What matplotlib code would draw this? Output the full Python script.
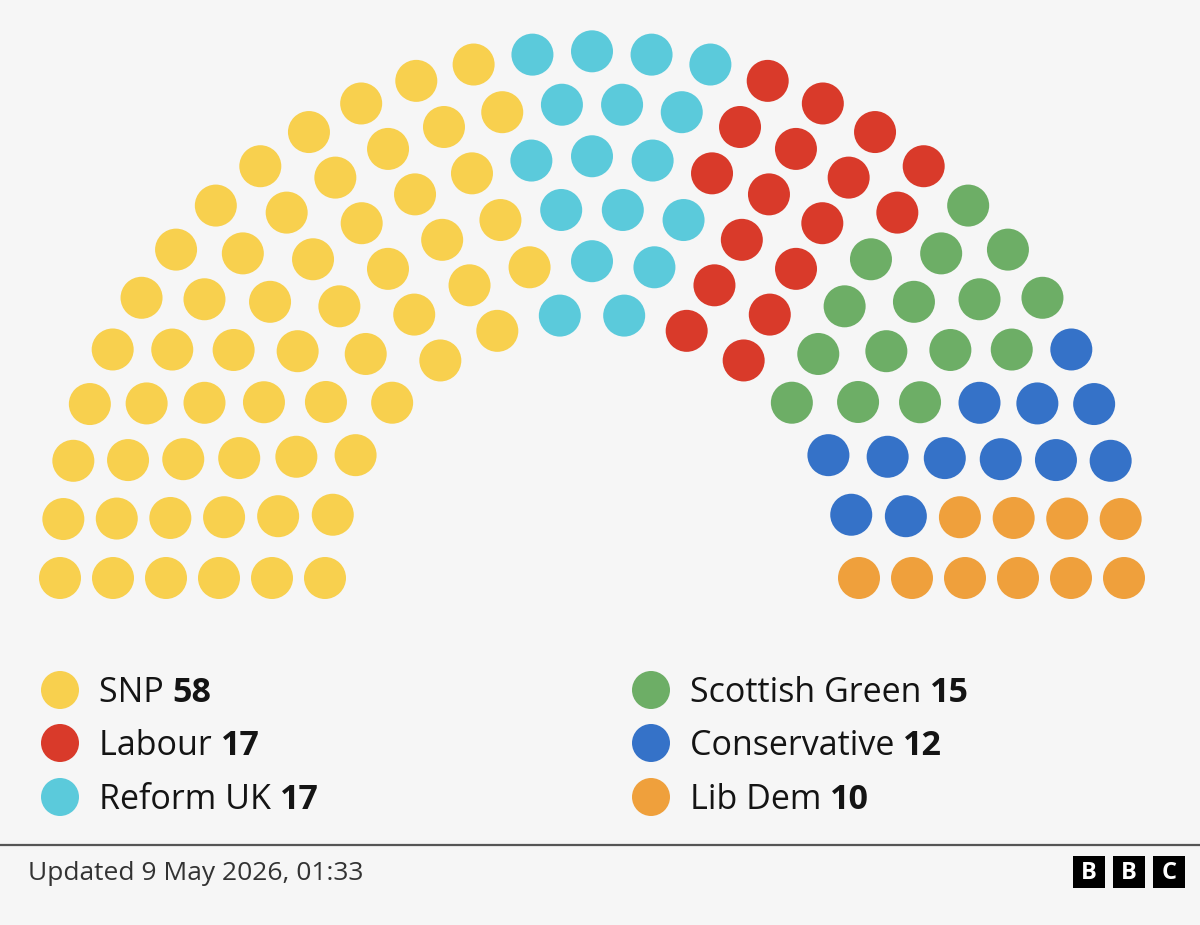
import numpy as np
import matplotlib
matplotlib.use("Agg")
import matplotlib.pyplot as plt
from matplotlib.patches import Circle, Rectangle

# ---- data ----
parties = ["SNP", "Reform UK", "Labour", "Scottish Green", "Conservative", "Lib Dem"]
seats = [58, 17, 17, 15, 12, 10]
colors = ["#F8D04E", "#5BCADB", "#D93A2A", "#6DAE66", "#3572C8", "#EFA03C"]
legend_order = ["SNP", "Labour", "Reform UK", "Scottish Green", "Conservative", "Lib Dem"]
seats_per_row = [29, 26, 23, 20, 17, 14]   # outer ring -> inner ring
updated_text = "Updated 9 May 2026, 01:33"

# ---- layout ----
W, H = 1200, 925
cx, cy = 592, 578
outer_r, ring_gap = 532, 53
dot_r = 21
yscale = 0.99

plt.rcParams['font.family'] = ['Open Sans', 'Noto Sans', 'DejaVu Sans']
fig = plt.figure(figsize=(W / 100, H / 100), dpi=100)
fig.patch.set_facecolor("#F6F6F6")
ax = fig.add_axes([0, 0, 1, 1])
ax.set_xlim(0, W)
ax.set_ylim(H, 0)
ax.set_aspect("equal")
ax.axis("off")

# compute seat positions
pos = []
for i, n in enumerate(seats_per_row):
    r = outer_r - i * ring_gap
    for k in range(n):
        ang = np.pi - k * np.pi / (n - 1)   # from left (pi) to right (0)
        pos.append((ang, -r, cx + r * np.cos(ang), cy - r * np.sin(ang) * yscale))
pos.sort(key=lambda p: (-p[0], p[1]))

seat_colors = []
for c, s in zip(colors, seats):
    seat_colors += [c] * s
for (a, _, x, y), c in zip(pos, seat_colors):
    ax.add_patch(Circle((x, y), dot_r, facecolor=c, edgecolor="none"))

# legend
col_map = dict(zip(parties, colors))
seat_map = dict(zip(parties, seats))
legend_x = [60, 651]
legend_y = [690, 743, 797]
fig.canvas.draw()
for idx, name in enumerate(legend_order):
    col, row = divmod(idx, 3)
    lx, ly = legend_x[col], legend_y[row]
    ax.add_patch(Circle((lx, ly), 19, facecolor=col_map[name], edgecolor="none"))
    t = ax.text(lx + 39, ly + 12, name + " ", fontsize=24.5, color="#141414",
                ha="left", va="baseline")
    ax.annotate(str(seat_map[name]), xy=(1, 0), xycoords=t, xytext=(0, 0),
                textcoords="offset points", fontsize=24.5, fontweight="bold",
                color="#141414", ha="left", va="bottom")

# footer
ax.plot([0, W], [845, 845], color="#555555", lw=1.6, solid_capstyle="butt")
ax.text(28, 880, updated_text, fontsize=19, color="#333333", ha="left", va="baseline")
for j, letter in enumerate("BBC"):
    x0 = 1073 + j * 40
    ax.add_patch(Rectangle((x0, 856), 32, 32, facecolor="#000000", edgecolor="none"))
    ax.text(x0 + 16, 873, letter, fontsize=17, fontweight="bold", color="white",
            ha="center", va="center")

fig.savefig("out.png", dpi=100, facecolor=fig.get_facecolor())
